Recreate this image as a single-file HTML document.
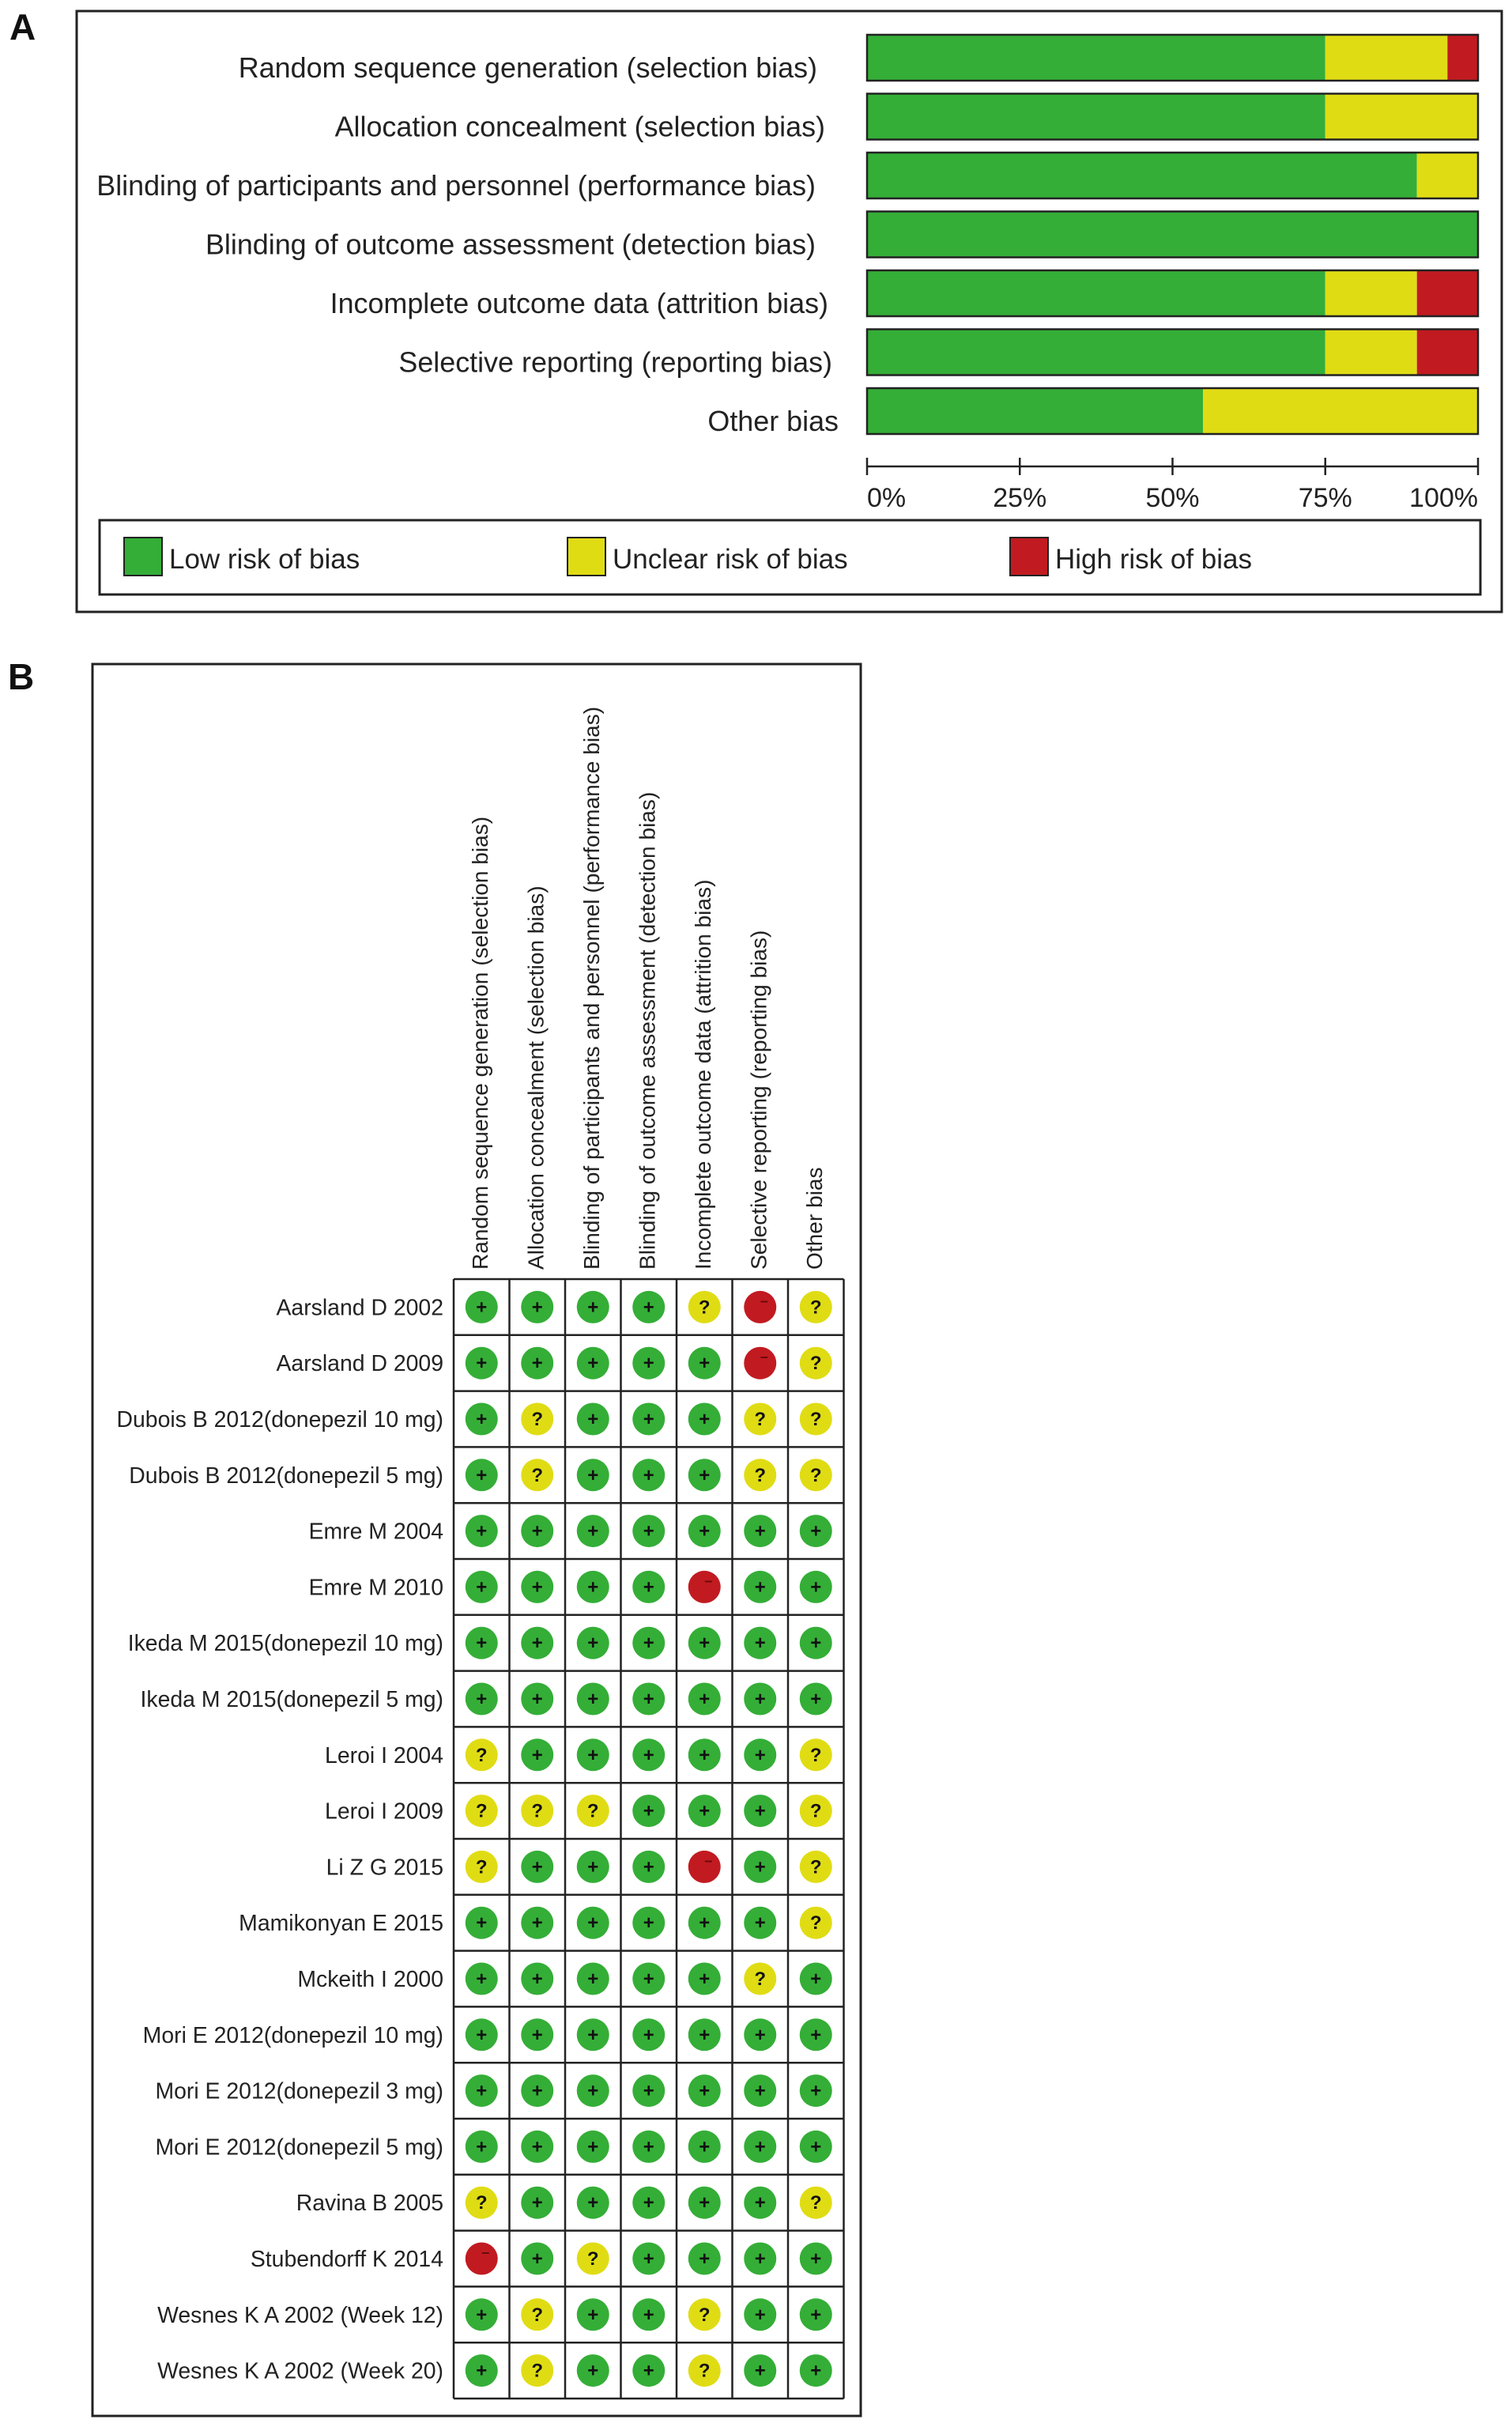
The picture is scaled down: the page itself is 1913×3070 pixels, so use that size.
<!DOCTYPE html>
<html><head><meta charset="utf-8"><style>
html,body{margin:0;padding:0;background:#fff;}
svg{display:block;font-family:"Liberation Sans",Arial,sans-serif;}
</style></head><body>
<svg id="fig" width="1913" height="3070" viewBox="0 0 1913 3070" xmlns="http://www.w3.org/2000/svg">
<text x="12" y="50" font-size="46" font-weight="bold" fill="#111">A</text>
<rect x="97" y="14" width="1803" height="760" fill="none" stroke="#222" stroke-width="3"/>
<text x="10" y="872" font-size="46" font-weight="bold" fill="#111">B</text>
<rect x="117" y="840" width="972" height="2216" fill="none" stroke="#222" stroke-width="3"/>
<g id="gA"></g>
<g id="gB"></g>
</svg>
<script>
const domains = ["Random sequence generation (selection bias)","Allocation concealment (selection bias)","Blinding of participants and personnel (performance bias)","Blinding of outcome assessment (detection bias)","Incomplete outcome data (attrition bias)","Selective reporting (reporting bias)","Other bias"];
const studies = ["Aarsland D 2002","Aarsland D 2009","Dubois B 2012(donepezil 10 mg)","Dubois B 2012(donepezil 5 mg)","Emre M 2004","Emre M 2010","Ikeda M 2015(donepezil 10 mg)","Ikeda M 2015(donepezil 5 mg)","Leroi I 2004","Leroi I 2009","Li Z G 2015","Mamikonyan E 2015","Mckeith I 2000","Mori E 2012(donepezil 10 mg)","Mori E 2012(donepezil 3 mg)","Mori E 2012(donepezil 5 mg)","Ravina B 2005","Stubendorff K 2014","Wesnes K A 2002 (Week 12)","Wesnes K A 2002 (Week 20)"];
const judgements = [
"LLLLUHU","LLLLLHU","LULLLUU","LULLLUU","LLLLLLL","LLLLHLL","LLLLLLL","LLLLLLL","ULLLLLU","UUULLLU",
"ULLLHLU","LLLLLLU","LLLLLUL","LLLLLLL","LLLLLLL","LLLLLLL","ULLLLLU","HLULLLL","LULLULL","LULLULL"];
const levels = ["L","U","H"];
const levelNames = ["Low risk of bias","Unclear risk of bias","High risk of bias"];
const tickLabels = ["0%","25%","50%","75%","100%"];
const tickValues = [0,25,50,75,100];
const colors = {L:"#34ae37",U:"#e0dc14",H:"#c11b21"};
const symbols = {L:"+",U:"?",H:"\u2212"};
const labelRight = [1034,1044,1032,1032,1048,1053,1061];

const NS="http://www.w3.org/2000/svg";
function mk(tag, attrs, parent){const e=document.createElementNS(NS,tag);for(const k in attrs)e.setAttribute(k,attrs[k]);parent.appendChild(e);return e;}
const gA=document.getElementById('gA'), gB=document.getElementById('gB');

const x0=1097, x1=1870;
const xs=v=>x0+(x1-x0)*v/100;
const barTop=i=>44+i*74.5;
const barH=58;
domains.forEach((d,i)=>{
  const t=mk('text',{x:labelRight[i],y:barTop(i)+54,'font-size':35.9,'text-anchor':'end',fill:'#222'},gA);
  t.textContent=d;
  
  
  const counts={L:0,U:0,H:0};
  judgements.forEach(r=>counts[r[i]]++);
  let acc=0;
  levels.forEach(l=>{
    const pct=100*counts[l]/judgements.length;
    if(pct<=0)return;
    const r=mk('rect',{x:xs(acc),y:barTop(i),width:xs(acc+pct)-xs(acc),height:barH,fill:colors[l]},gA);
    
    
    acc+=pct;
  });
  const o=mk('rect',{x:x0,y:barTop(i),width:x1-x0,height:barH,fill:'none',stroke:'#222','stroke-width':2.5},gA);
  
  
});
const ax=mk('line',{x1:x0,x2:x1,y1:590,y2:590,stroke:'#222','stroke-width':2.5},gA);


tickValues.forEach((v,k)=>{
  const tk=mk('line',{x1:xs(v),x2:xs(v),y1:579,y2:601,stroke:'#222','stroke-width':2.5},gA);
  
  
  const anchor=k===0?'start':(k===tickValues.length-1?'end':'middle');
  const t=mk('text',{x:xs(v),y:641,'font-size':34,'text-anchor':anchor,fill:'#222'},gA);
  t.textContent=tickLabels[k];
  
  
});
const lg=mk('rect',{x:126,y:658,width:1747,height:94,fill:'none',stroke:'#222','stroke-width':3},gA);


const lgx=[157,718,1278];
levels.forEach((l,k)=>{
  const s=mk('rect',{x:lgx[k],y:680,width:48,height:48,fill:colors[l],stroke:'#222','stroke-width':2},gA);
  
  
  const t=mk('text',{x:lgx[k]+57,y:719,'font-size':35,fill:'#222'},gA);
  t.textContent=levelNames[k];
  
  
});

const gx0=574, cw=70.5, gy0=1618, rh=70.8;
const cx=j=>gx0+cw*(j+0.5);
const cy=i=>gy0+rh*(i+0.5);
domains.forEach((d,j)=>{
  const x=cx(j)-2, y=1606;
  const t=mk('text',{x:x,y:y,'font-size':28.1,fill:'#222','dominant-baseline':'central',transform:`rotate(-90 ${x} ${y})`},gB);
  t.textContent=d;
  
  
});
studies.forEach((s,i)=>{
  const t=mk('text',{x:561,y:cy(i)+10,'font-size':28.4,'text-anchor':'end',fill:'#222'},gB);
  t.textContent=s;
  
  
  for(let j=0;j<domains.length;j++){
    const l=judgements[i][j];
    const c=mk('circle',{cx:cx(j),cy:cy(i),r:20.5,fill:colors[l]},gB);
    
    
    const sy=mk('text',{x:cx(j)+(l==='H'?5:0),y:cy(i)+(l==='H'?-1:8),'font-size':l==='H'?18:24,'font-weight':'bold','text-anchor':'middle',fill:l==='H'?'#6a0a0a':'#111'},gB);
    sy.textContent=symbols[l];
    
    
  }
});
for(let i=0;i<=studies.length;i++){
  const ln=mk('line',{x1:gx0,x2:gx0+cw*7,y1:gy0+rh*i,y2:gy0+rh*i,stroke:'#222','stroke-width':2.5},gB);
  
  
}
for(let j=0;j<=domains.length;j++){
  const ln=mk('line',{x1:gx0+cw*j,x2:gx0+cw*j,y1:gy0,y2:gy0+rh*studies.length,stroke:'#222','stroke-width':2.5},gB);
  
  
}
</script>
</body></html>
